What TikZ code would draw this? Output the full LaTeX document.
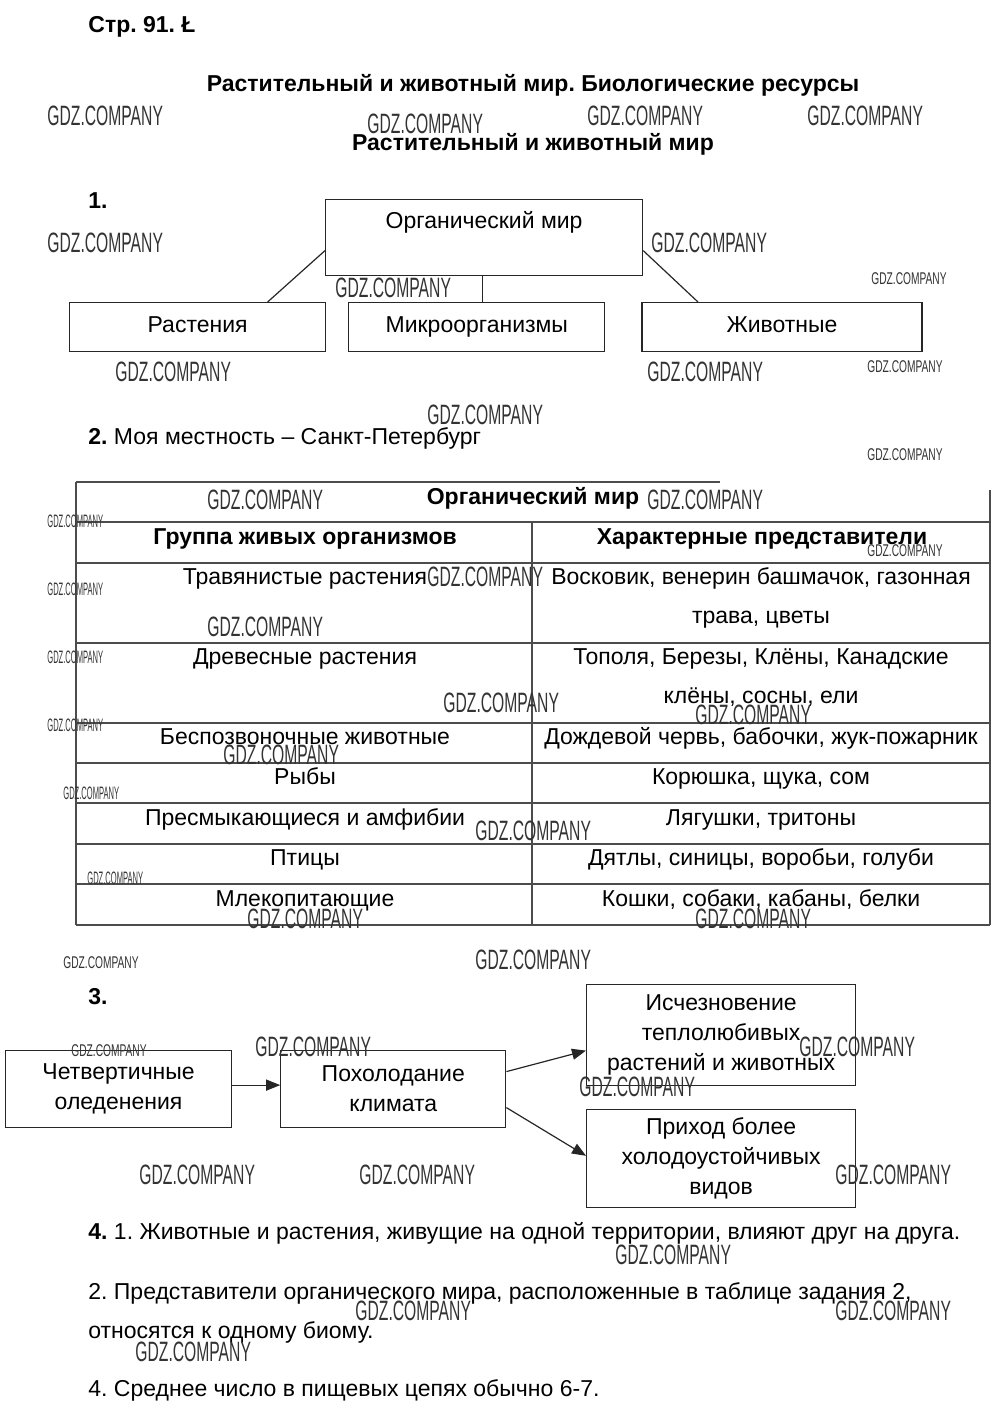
\documentclass[tikz,border=0pt]{standalone}
\usepackage{fontspec}
\setmainfont{Liberation Sans}
\newfontfamily\wmbigfont[FakeStretch=0.56]{Liberation Sans}
\newfontfamily\wmmidfont[FakeStretch=0.6]{Liberation Sans}
\newfontfamily\wmsmallfont[FakeStretch=0.42]{Liberation Sans}
\usetikzlibrary{arrows.meta, positioning, calc}
\frenchspacing
\tikzset{
    box/.style = {rectangle, draw=black!85, line width=0.6pt, inner sep=0pt, text centered, align=center},
    onebox/.style = {box, text height=8pt, text depth=2.5pt},
    cell/.style = {inner sep=0pt, anchor=base},
    heading/.style = {inner sep=0pt, anchor=base, font=\fontsize{11.5}{14}\selectfont\bfseries},
    para/.style = {inner sep=0pt, anchor=base west},
    grid/.style = {draw=black!70, line width=0.7pt},
    link/.style = {draw=black!85, line width=0.6pt},
    arrow/.style = {link, -{Triangle[length=7pt, width=5.5pt]}},
    wmbig/.style = {inner sep=0pt, anchor=west, text=black!80, font=\wmbigfont\fontsize{14}{14}\selectfont},
    wmmid/.style = {inner sep=0pt, anchor=west, text=black!80, font=\wmmidfont\fontsize{8.5}{8.5}\selectfont},
    wmsmall/.style = {inner sep=0pt, anchor=west, text=black!80, font=\wmsmallfont\fontsize{9}{9}\selectfont}
}

\begin{document}
\begin{tikzpicture}[x=0.5pt, y=-0.5pt, font=\fontsize{11.5}{13.5}\selectfont]
\useasboundingbox (0,0) rectangle (1000,1415);

% --- HEADER ---
\node (page) [heading, anchor=base west] at (88,32) {Стр. 91. Ł};
\node (title) [heading] at (533,91) {Растительный и животный мир. Биологические ресурсы};
\node (subtitle) [heading] at (533,150) {Растительный и животный мир};

% --- TASK 1 ---
\node (num1) [heading, anchor=base west] at (88,208) {1.};
\node (org) [box, anchor=north west, minimum width=158.5pt, minimum height=38pt] at (325,199) {};
\node (orgtext) [cell] at ([yshift=-14.5pt]org.north) {Органический мир};
\node (plants) [onebox, anchor=north west, minimum width=128pt, minimum height=24.5pt] at (69,302) {Растения};
\node (micro) [onebox, right=11pt of plants, minimum width=128pt, minimum height=24.5pt] {Микроорганизмы};
\node (animals) [onebox, right=18pt of micro, minimum width=140pt, minimum height=24.5pt] {Животные};

\draw [link] ([yshift=-6.5pt]org.west) -- ([xshift=35pt]plants.north);
\draw [link] ([xshift=-0.75pt]org.south) -- ([xshift=-0.75pt]org.south |- micro.north);
\draw [link] ([yshift=-6.5pt]org.east) -- ([xshift=-42pt]animals.north);

% --- TASK 2 ---
\node (num2) [para] at (88,444) {\textbf{2.} Моя местность – Санкт-Петербург};

% table grid
\draw [grid] (76,482) -- (720,482);
\draw [grid] (76,482) -- (76,925);
\draw [grid] (990,490) -- (990,925);
\draw [grid] (532,522) -- (532,925);
\draw [grid] (76,522) -- (990,522);
\draw [grid] (76,563) -- (990,563);
\draw [grid] (76,643) -- (990,643);
\draw [grid] (76,723) -- (990,723);
\draw [grid] (76,763) -- (990,763);
\draw [grid] (76,803) -- (990,803);
\draw [grid] (76,844) -- (990,844);
\draw [grid] (76,884) -- (990,884);
\draw [grid] (76,925) -- (990,925);

\node (tabtitle) [heading] at (533,504) {Органический мир};
\node (colgroup) [heading] at (305,544) {Группа живых организмов};
\node (colkind) [heading] at (762,544) {Характерные представители};

\node (herb) [cell] at (305,584) {Травянистые растения};
\node (herbkind) [inner sep=0pt, align=center, font=\fontsize{11.5}{19.5}\selectfont] at (761,598) {Восковик, венерин башмачок, газонная\\трава, цветы};
\node (wood) [cell] at (305,664) {Древесные растения};
\node (woodkind) [inner sep=0pt, align=center, font=\fontsize{11.5}{19.5}\selectfont] at (761,678) {Тополя, Березы, Клёны, Канадские\\клёны, сосны, ели};
\node (invert) [cell] at (305,744) {Беспозвоночные животные};
\node (invertkind) [cell] at (761,744) {Дождевой червь, бабочки, жук-пожарник};
\node (fish) [cell] at (305,784) {Рыбы};
\node (fishkind) [cell] at (761,784) {Корюшка, щука, сом};
\node (reptile) [cell] at (305,825) {Пресмыкающиеся и амфибии};
\node (reptilekind) [cell] at (761,825) {Лягушки, тритоны};
\node (bird) [cell] at (305,865) {Птицы};
\node (birdkind) [cell] at (761,865) {Дятлы, синицы, воробьи, голуби};
\node (mammal) [cell] at (305,906) {Млекопитающие};
\node (mammalkind) [cell] at (761,906) {Кошки, собаки, кабаны, белки};

% --- TASK 3 ---
\node (num3) [heading, anchor=base west] at (88,1004) {3.};
\node (glacier) [box, anchor=north west, minimum width=113pt, minimum height=38.5pt, font=\fontsize{11.5}{15}\selectfont] at (5,1050) {Четвертичные\\оледенения};
\node (cooling) [box, right=24pt of glacier, minimum width=112.5pt, minimum height=38.5pt, font=\fontsize{11.5}{15}\selectfont] {Похолодание\\климата};
\node (extinct) [box, anchor=north west, minimum width=134.5pt, minimum height=50.5pt, font=\fontsize{11.5}{15}\selectfont] at (586,984) {Исчезновение\\теплолюбивых\\растений и животных};
\node (arrive) [box, below=11.5pt of extinct, minimum width=134.5pt, minimum height=49pt, font=\fontsize{11.5}{15}\selectfont] {Приход более\\холодоустойчивых\\видов};

\draw [arrow] ([yshift=2pt]glacier.east) -- ([yshift=2pt]cooling.west);
\draw [arrow] ([yshift=8.75pt]cooling.east) -- ([yshift=-7.75pt]extinct.west);
\draw [arrow] ([yshift=-9.25pt]cooling.east) -- ([yshift=1.5pt]arrive.west);

% --- TASK 4 ---
\node (ans1) [para] at (88,1239) {\textbf{4.} 1. Животные и растения, живущие на одной территории, влияют друг на друга.};
\node (ans2) [para] at (88,1299) {2. Представители органического мира, расположенные в таблице задания 2,};
\node (ans2b) [para] at (88,1338) {относятся к одному биому.};
\node (ans4) [para] at (88,1396) {4. Среднее число в пищевых цепях обычно 6-7.};

% --- WATERMARKS ---
\foreach \wx/\wy [count=\i] in {47/116, 367/124, 587/116, 807/116, 47/243, 651/243, 335/288,
    115/372, 647/372, 427/415, 207/500, 647/500, 427/577, 207/627, 443/703, 695/715, 223/755,
    475/831, 247/919, 695/919, 475/960, 255/1047, 799/1047, 579/1087, 139/1175, 359/1175,
    835/1175, 615/1255, 355/1311, 835/1311, 135/1352}
    \node (wmb\i) [wmbig] at (\wx,\wy) {GDZ.COMPANY};
\foreach \wx/\wy [count=\i] in {871/279, 867/367, 867/455, 867/551, 63/963, 71/1051}
    \node (wmm\i) [wmmid] at (\wx,\wy) {GDZ.COMPANY};
\foreach \wx/\wy [count=\i] in {47/521, 47/589, 47/657, 47/725, 63/793, 87/878}
    \node (wms\i) [wmsmall] at (\wx,\wy) {GDZ.COMPANY};

\end{tikzpicture}
\end{document}
